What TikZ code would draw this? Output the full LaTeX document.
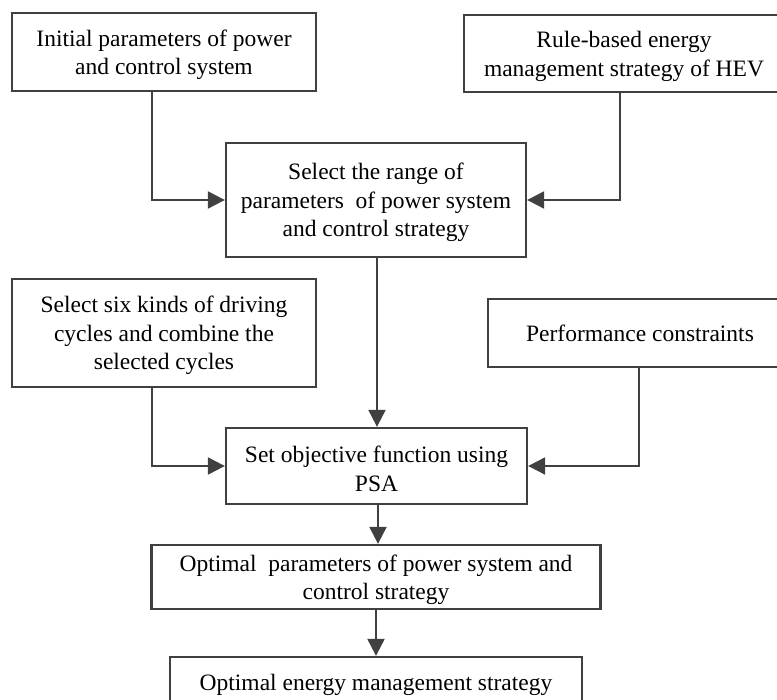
\documentclass[tikz,border=0pt]{standalone}
\usepackage{fontspec}
\setmainfont{Liberation Serif}
\usetikzlibrary{arrows.meta}
\definecolor{ln}{RGB}{64,64,64}
\newcommand{\mytopstrut}{\rule{0pt}{22pt}}
\begin{document}
\begin{tikzpicture}[x=1pt,y=-1pt,
  box/.style={draw=ln,line width=2.3pt,align=center,inner sep=0pt,
    font=\fontsize{23.5}{28.5}\selectfont},
  arr/.style={draw=ln,line width=2.1pt,-{Triangle[length=17pt,width=17pt]}}]
\useasboundingbox (0,0) rectangle (777,700);
\clip (0,0) rectangle (777,700);
\node[box,minimum width=304pt,minimum height=78pt] (n1) at (164,52)
  {\mytopstrut Initial parameters of power\\and control system};
\node[box,minimum width=320pt,minimum height=77pt] (n2) at (624,53.5)
  {\mytopstrut Rule-based energy\\management strategy of HEV};
\node[box,minimum width=300pt,minimum height=114pt] (n3) at (376,200)
  {\mytopstrut Select the range of\\parameters\ \ of power system\\and control strategy};
\node[box,minimum width=304pt,minimum height=108pt] (n4) at (164,333)
  {\mytopstrut Select six kinds of driving\\cycles and combine the\\selected cycles};
\node[box,minimum width=304pt,minimum height=68pt] (n5) at (640,333)
  {Performance constraints};
\node[box,minimum width=301pt,minimum height=76pt] (n6) at (376.5,466)
  {\mytopstrut Set objective function using\\PSA};
\node[box,minimum width=449pt,minimum height=64pt] (n7) at (376,577)
  {\mytopstrut Optimal\ \ parameters of power system and\\control strategy};
\node[box,minimum width=412pt,minimum height=50pt] (n8) at (376,682)
  {\mytopstrut Optimal energy management strategy};
\draw[arr] ([xshift=-12pt]n1.south) |- (n3.west);
\draw[arr] ([xshift=-4pt]n2.south) |- (n3.east);
\draw[arr] ([xshift=1pt]n3.south) -- ([xshift=0.5pt]n6.north);
\draw[arr] ([xshift=-12pt]n4.south) |- (n6.west);
\draw[arr] ([xshift=-1pt]n5.south) |- (n6.east);
\draw[arr] ([xshift=1.5pt]n6.south) -- ([xshift=2pt]n7.north);
\draw[arr] (n7.south) -- (n8.north);
\end{tikzpicture}
\end{document}
